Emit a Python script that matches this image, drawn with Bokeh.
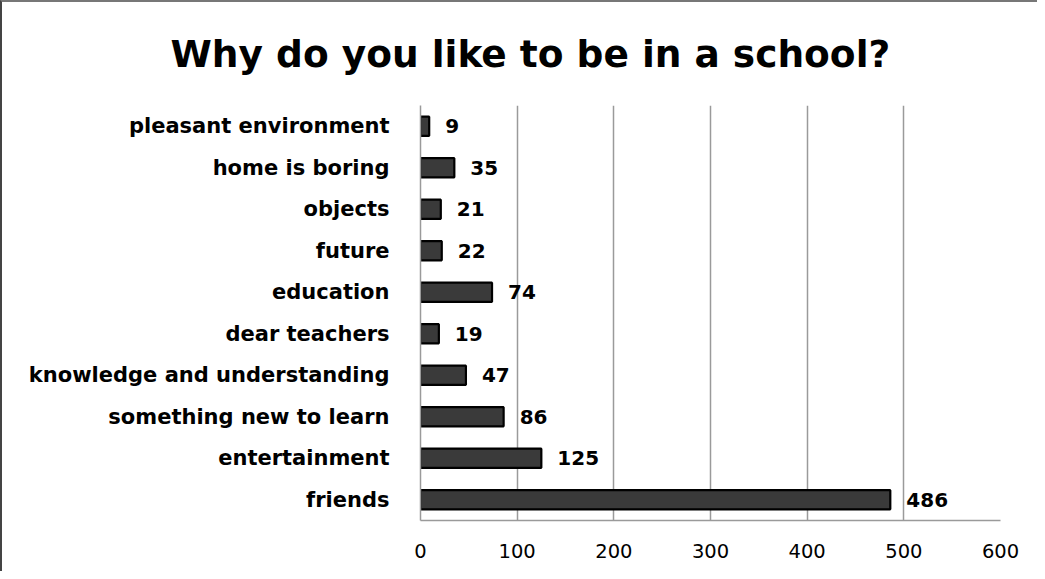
from bokeh.plotting import figure
from bokeh.models import ColumnDataSource, FactorRange, Range1d, FixedTicker, LabelSet, Title
from bokeh.core.properties import value
from bokeh.embed import file_html
from bokeh.resources import INLINE

categories = ["friends", "entertainment", "something new to learn",
              "knowledge and understanding", "dear teachers", "education",
              "future", "objects", "home is boring", "pleasant environment"]
counts = [486, 125, 86, 47, 19, 74, 22, 21, 35, 9]
tick_values = [0, 100, 200, 300, 400, 500, 600]
title_text = "Why do you like to be in a school?"

FONT = "DejaVu Sans"

source = ColumnDataSource(dict(cat=categories, val=counts,
                               lab=[str(v) for v in counts]))

p = figure(width=1037, height=571, output_backend="svg", toolbar_location=None,
           y_range=FactorRange(factors=categories), x_range=Range1d(0, 600),
           min_border_left=418, min_border_right=39, min_border_top=103,
           min_border_bottom=53)
p.title.visible = False
t = Title(text=title_text, align="left", offset=-250, vertical_align="top",
          text_font=FONT, text_font_size="37.5px", text_font_style="bold",
          text_color="#000000", standoff=56)
p.add_layout(t, "above")

p.hbar(y="cat", right="val", left=0, height=0.46, source=source,
       fill_color="#3a3a3a", line_color="#000000", line_width=2.2)

labels = LabelSet(x="val", y="cat", text="lab", source=source, x_offset=16,
                  text_align="left", text_baseline="middle",
                  text_font=value(FONT), text_font_size=value("20px"),
                  text_font_style=value("bold"), text_color="#000000")
p.add_layout(labels)

p.outline_line_color = None
p.background_fill_color = "white"
p.border_fill_color = "white"

p.ygrid.grid_line_color = None
p.xgrid.grid_line_color = "#9a9a9a"
p.xgrid.grid_line_width = 1.5
p.xgrid.ticker = FixedTicker(ticks=tick_values)

p.xaxis.ticker = FixedTicker(ticks=tick_values)
p.xaxis.axis_line_color = "#9a9a9a"
p.xaxis.axis_line_width = 1.5
p.xaxis.major_tick_line_color = None
p.xaxis.minor_tick_line_color = None
p.xaxis.major_label_standoff = 17
p.xaxis.major_label_text_font = FONT
p.xaxis.major_label_text_font_size = "19.5px"
p.xaxis.major_label_text_color = "#000000"

p.yaxis.axis_line_color = "#9a9a9a"
p.yaxis.axis_line_width = 1.5
p.yaxis.major_tick_line_color = None
p.yaxis.minor_tick_line_color = None
p.yaxis.major_label_standoff = 25
p.yaxis.major_label_text_font = FONT
p.yaxis.major_label_text_font_size = "21px"
p.yaxis.major_label_text_font_style = "bold"
p.yaxis.major_label_text_color = "#000000"

p.styles = {"border-left": "2px solid #444444", "border-top": "2px solid #777777"}

open("out.html", "w").write(file_html(p, INLINE))
